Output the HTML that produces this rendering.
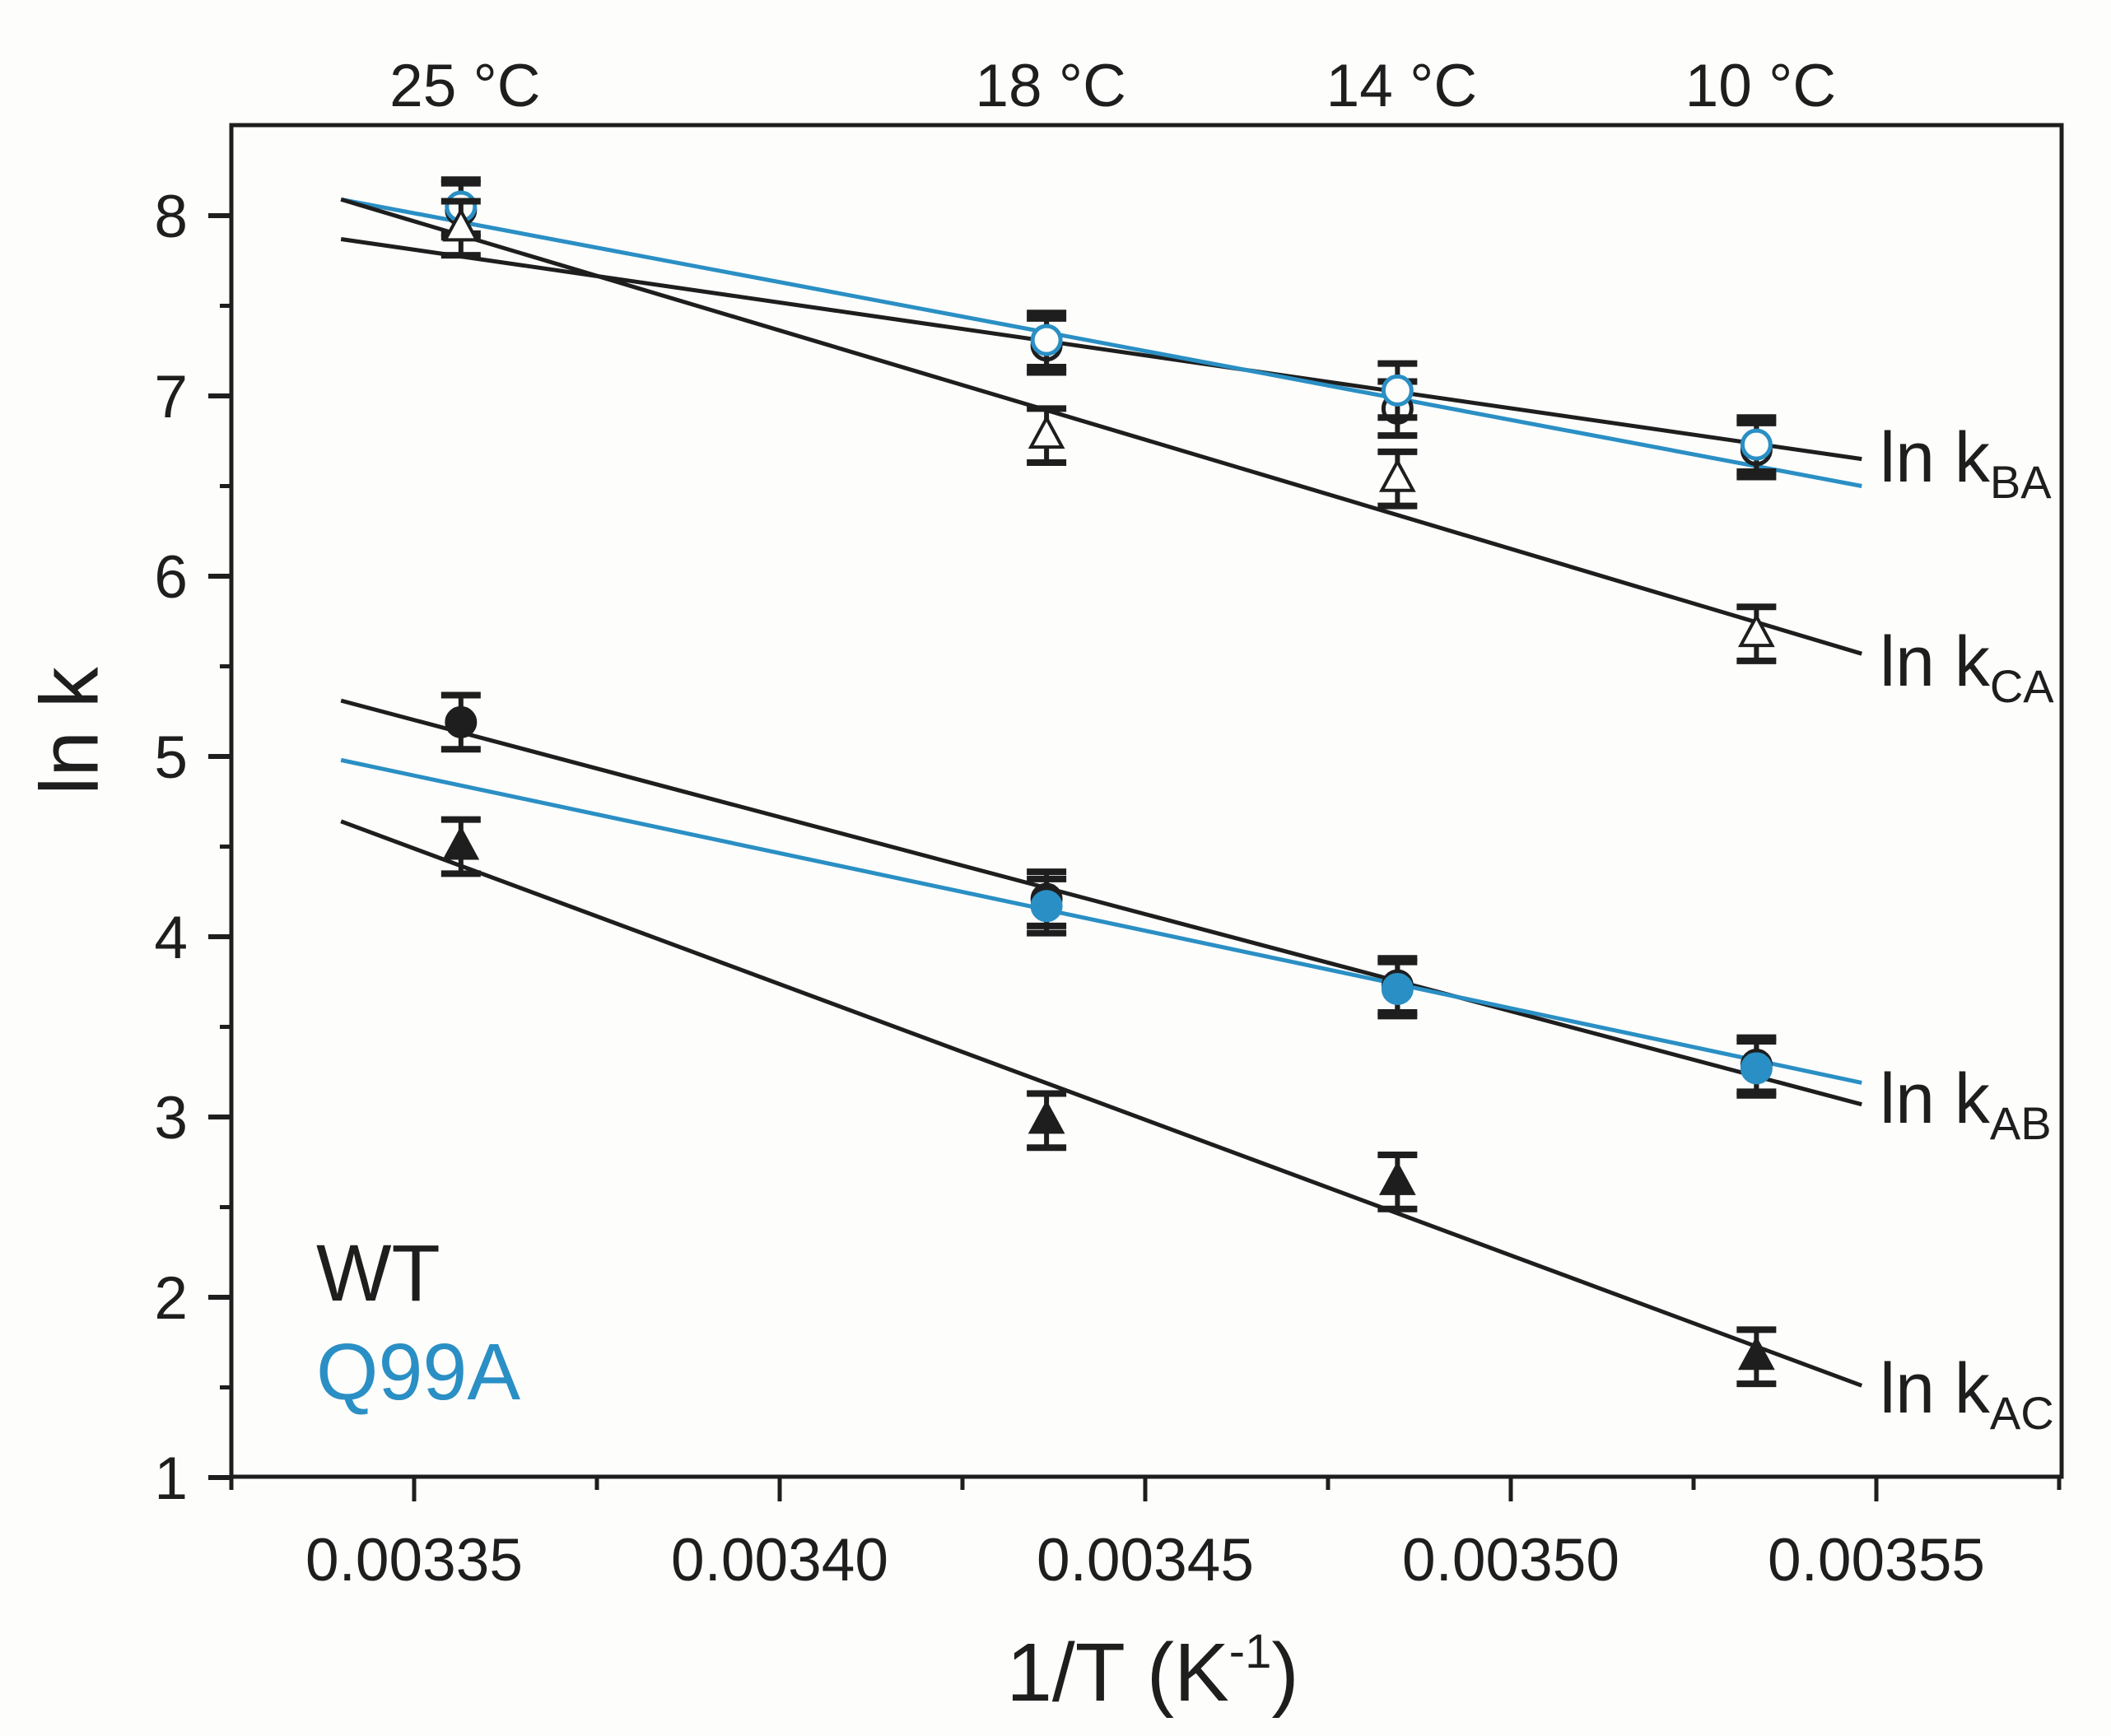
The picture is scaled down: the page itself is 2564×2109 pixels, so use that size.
<!DOCTYPE html>
<html><head><meta charset="utf-8"><style>
html,body{margin:0;padding:0;background:#fdfdfc;}
svg{display:block;font-family:"Liberation Sans",sans-serif;}
</style></head><body>
<svg id="chart" width="2564" height="2109" viewBox="0 0 2564 2109" xmlns="http://www.w3.org/2000/svg">
<rect x="0" y="0" width="2564" height="2109" fill="#fdfdfc"/>
<g id="plot"></g>
</svg>
<script>
const tempLabels = ["25 °C","18 °C","14 °C","10 °C"];
const invT = [0.0033564, 0.0034365, 0.0034845, 0.0035336];
const wtBA = [8.03, 7.28, 6.93, 6.70];
const qBA = [8.05, 7.31, 7.03, 6.73];
const wtCA = [7.93, 6.78, 6.54, 5.68];
const wtAB = [5.19, 4.21, 3.73, 3.29];
const qAB = [null, 4.17, 3.71, 3.27];
const wtAC = [4.50, 2.98, 2.64, 1.67];
const errVals = [0.15, 0.15, 0.15, 0.15];
const fitX = [0.00334, 0.003548];
const fitWtBA = [7.87, 6.65];
const fitQBA = [8.09, 6.50];
const fitWtCA = [8.09, 5.57];
const fitWtAB = [5.31, 3.07];
const fitQAB = [4.98, 3.19];
const fitWtAC = [4.64, 1.51];
const xTicks = [0.00335, 0.00340, 0.00345, 0.00350, 0.00355];
const xTickLabels = ["0.00335","0.00340","0.00345","0.00350","0.00355"];
const yTicks = [1,2,3,4,5,6,7,8];

const L=281, R=2504, T=152, B=1794;
function sx(v){ return 503 + (v-0.00335)/0.00005*444; }
function sy(v){ return 262 + (8-v)*219; }
const NS="http://www.w3.org/2000/svg";
const plot=document.getElementById('plot');
function mk(tag, attrs, parent){ const e=document.createElementNS(NS,tag); for(const k in attrs) e.setAttribute(k,attrs[k]); (parent||plot).appendChild(e); return e; }
const BLUE="#2a8fc4", BLK="#1e1e1e";

const fits=[[fitWtBA,BLK,'fit-line-wt-kba'],[fitQBA,BLUE,'fit-line-q99a-kba'],[fitWtCA,BLK,'fit-line-wt-kca'],[fitWtAB,BLK,'fit-line-wt-kab'],[fitQAB,BLUE,'fit-line-q99a-kab'],[fitWtAC,BLK,'fit-line-wt-kac']];
fits.forEach(f=>{
  const l=mk('line',{x1:sx(fitX[0]),y1:sy(f[0][0]),x2:sx(fitX[1]),y2:sy(f[0][1]),stroke:f[1],'stroke-width':5});
  
  
});

function series(vals, color, shape, filled, name){
  vals.forEach((v,i)=>{
    if(v===null) return;
    const x=sx(invT[i]), y=sy(v), e=errVals[i]*219;
    const g=mk('g',{});
    
    
    mk('line',{x1:x,y1:y-e,x2:x,y2:y+e,stroke:BLK,'stroke-width':6},g);
    mk('line',{x1:x-24,y1:y-e,x2:x+24,y2:y-e,stroke:BLK,'stroke-width':8},g);
    mk('line',{x1:x-24,y1:y+e,x2:x+24,y2:y+e,stroke:BLK,'stroke-width':8},g);
    const fill = filled?color:'#fdfdfc';
    if(shape==='c') mk('circle',{cx:x,cy:y,r:17,fill:fill,stroke:color,'stroke-width':5},g);
    else mk('polygon',{points:`${x},${y-21} ${x-19},${y+14} ${x+19},${y+14}`,fill:fill,stroke:color,'stroke-width':4},g);
  });
}
series(wtBA,BLK,'c',false,'wt-kba');
series(qBA,BLUE,'c',false,'q99a-kba');
series(wtCA,BLK,'t',false,'wt-kca');
series(wtAB,BLK,'c',true,'wt-kab');
series(qAB,BLUE,'c',true,'q99a-kab');
series(wtAC,BLK,'t',true,'wt-kac');

const fr=mk('rect',{x:L,y:T,width:R-L,height:B-T,fill:'none',stroke:BLK,'stroke-width':5});



xTicks.forEach((v,i)=>{
  const x=sx(v);
  const t=mk('line',{x1:x,y1:B,x2:x,y2:B+30,stroke:BLK,'stroke-width':5});
  
  
  const m=mk('line',{x1:x-222,y1:B,x2:x-222,y2:B+16,stroke:BLK,'stroke-width':5});
  
  
  const tx=mk('text',{x:x,y:1920,'font-size':73,'text-anchor':'middle',fill:BLK});
  tx.textContent=xTickLabels[i];
  
  
});
{ const x=sx(0.00355)+222; const m=mk('line',{x1:x,y1:B,x2:x,y2:B+16,stroke:BLK,'stroke-width':5});
  
   }
yTicks.forEach(v=>{
  const y=sy(v);
  const t=mk('line',{x1:L-28,y1:y,x2:L,y2:y,stroke:BLK,'stroke-width':6});
  
  
  if(v<8){ const m=mk('line',{x1:L-14,y1:sy(v+0.5),x2:L,y2:sy(v+0.5),stroke:BLK,'stroke-width':5});
    
     }
  const tx=mk('text',{x:228,y:y+26,'font-size':73,'text-anchor':'end',fill:BLK});
  tx.textContent=String(v);
  
  
});
tempLabels.forEach((s,i)=>{
  const tx=mk('text',{x:sx(invT[i])+5,y:129,'font-size':73,'text-anchor':'middle',fill:BLK});
  tx.textContent=s;
  
  
});
</script>
<svg style="position:absolute;left:0;top:0" width="2564" height="2109" font-family="Liberation Sans, sans-serif">
<text x="92" y="888" font-size="100" fill="#1e1e1e" text-anchor="middle" transform="rotate(-90 92 888)" dominant-baseline="middle">ln k</text>
<text x="1400" y="2066" font-size="100" fill="#1e1e1e" text-anchor="middle">1/T (K<tspan dy="-40" font-size="58">-1</tspan><tspan dy="40">)</tspan></text>
<text x="2283" y="585" font-size="86" fill="#1e1e1e">ln k<tspan font-size="56" dy="20">BA</tspan></text>
<text x="2283" y="833" font-size="86" fill="#1e1e1e">ln k<tspan font-size="56" dy="20">CA</tspan></text>
<text x="2283" y="1364" font-size="86" fill="#1e1e1e">ln k<tspan font-size="56" dy="20">AB</tspan></text>
<text x="2283" y="1716" font-size="86" fill="#1e1e1e">ln k<tspan font-size="56" dy="20">AC</tspan></text>
<text x="384" y="1580" font-size="97" fill="#1e1e1e">WT</text>
<text x="384" y="1700" font-size="97" fill="#2a8fc4">Q99A</text>
</svg>
</body></html>
